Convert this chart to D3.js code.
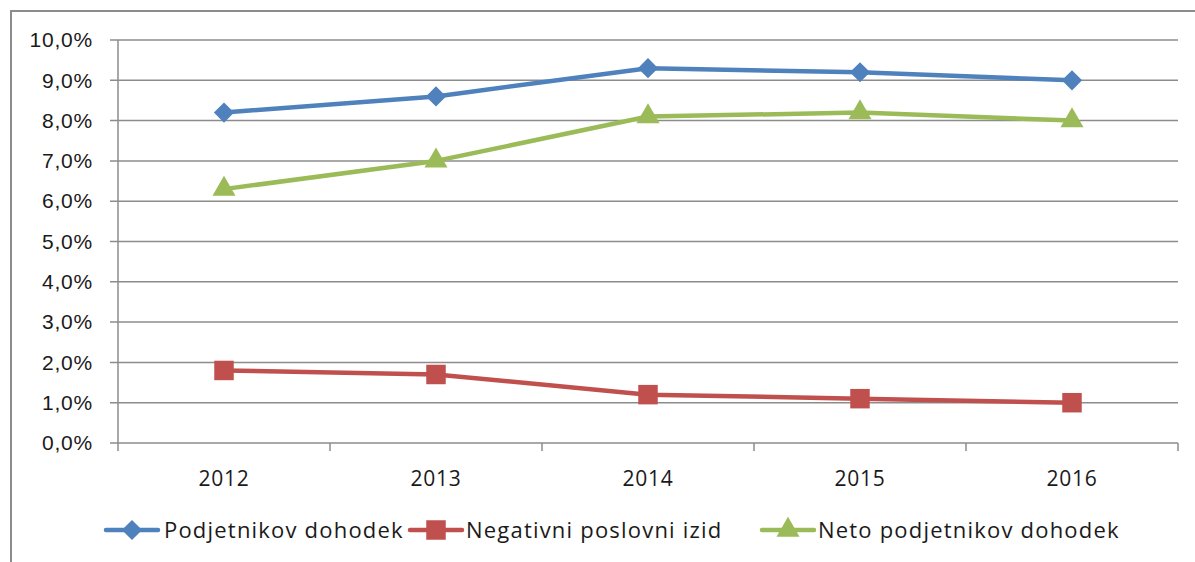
<!DOCTYPE html>
<html>
<head>
<meta charset="utf-8">
<script src="https://cdn.jsdelivr.net/npm/d3@7"></script>
<style>
  body { margin: 0; background: #fff; }
  svg { display: block; font-family: "Open Sans", sans-serif; }
</style>
</head>
<body>
<svg id="drawing_region"></svg>
<script>
const years = ["2012", "2013", "2014", "2015", "2016"];
const podjetnikov = [8.2, 8.6, 9.3, 9.2, 9.0];
const negativni = [1.8, 1.7, 1.2, 1.1, 1.0];
const neto = [6.3, 7.0, 8.1, 8.2, 8.0];
const yTicks = [0, 1, 2, 3, 4, 5, 6, 7, 8, 9, 10];
const seriesNames = ["Podjetnikov dohodek", "Negativni poslovni izid", "Neto podjetnikov dohodek"];

const series = [
    { name: seriesNames[0], values: podjetnikov, color: "#4F81BD", marker: d3.symbolDiamond2, size: 260 },
    { name: seriesNames[1], values: negativni, color: "#C0504D", marker: d3.symbolSquare, size: 380 },
    { name: seriesNames[2], values: neto, color: "#9BBB59", marker: d3.symbolTriangle, size: 230 }
];

const width = 1195, height = 562;
const margin = { top: 40, left: 118, right: 17, bottom: 119 };

const svg = d3.select("#drawing_region")
    .attr("width", width)
    .attr("height", height);

// chart frame (only left and top edges visible)
svg.append("path")
    .attr("d", "M11,562 V11 H1195")
    .attr("fill", "none")
    .attr("stroke", "#8c8c8c")
    .attr("stroke-width", 2);

const xscale = d3.scaleBand()
    .domain(years)
    .range([margin.left, width - margin.right]);

const yscale = d3.scaleLinear()
    .domain([0, 10])
    .range([height - margin.bottom, margin.top]);

const fmt = d => d.toFixed(1).replace(".", ",") + "%";

// gridlines
svg.append("g")
    .selectAll("line")
    .data(yTicks)
    .join("line")
    .attr("x1", margin.left - 8)
    .attr("x2", width - margin.right)
    .attr("y1", d => yscale(d))
    .attr("y2", d => yscale(d))
    .attr("stroke", "#8c8c8c")
    .attr("stroke-width", 1.5);

// y axis
const yaxis_group = svg.append("g")
    .attr("transform", `translate(${margin.left}, 0)`)
    .call(d3.axisLeft(yscale).tickValues(yTicks).tickFormat(fmt).tickSize(8).tickPadding(17));
yaxis_group.selectAll("line").remove();
yaxis_group.select(".domain").attr("d", `M0,${yscale(10)}V${yscale(0)}`)
    .attr("stroke", "#8c8c8c").attr("stroke-width", 1.5);
yaxis_group.selectAll("text")
    .style("font-size", "21px")
    .style("letter-spacing", "0.8px")
    .attr("fill", "#1a1a1a");

// x axis
const bounds = years.map(y => xscale(y)).concat([xscale.range()[1]]);
svg.append("g")
    .selectAll("line")
    .data(bounds)
    .join("line")
    .attr("x1", d => d).attr("x2", d => d)
    .attr("y1", yscale(0)).attr("y2", yscale(0) + 8)
    .attr("stroke", "#8c8c8c")
    .attr("stroke-width", 1.5);

svg.append("g")
    .selectAll("text")
    .data(years)
    .join("text")
    .attr("x", d => xscale(d) + xscale.bandwidth() / 2)
    .attr("y", yscale(0) + 43)
    .attr("text-anchor", "middle")
    .style("font-size", "21px")
    .style("letter-spacing", "0.8px")
    .attr("fill", "#1a1a1a")
    .text(d => d);

// lines and markers
const line = d3.line()
    .x((d, i) => xscale(years[i]) + xscale.bandwidth() / 2)
    .y(d => yscale(d));

series.forEach(s => {
    svg.append("path")
        .datum(s.values)
        .attr("d", line)
        .attr("fill", "none")
        .attr("stroke", s.color)
        .attr("stroke-width", 4.5)
        .attr("stroke-linejoin", "round");

    svg.append("g")
        .selectAll("path")
        .data(s.values)
        .join("path")
        .attr("transform", (d, i) => `translate(${xscale(years[i]) + xscale.bandwidth() / 2}, ${yscale(d)})`)
        .attr("d", d3.symbol().type(s.marker).size(s.size))
        .attr("fill", s.color);
});

// legend
const legendX = [106, 410, 762];
const legendY = 530;
series.forEach((s, i) => {
    const g = svg.append("g").attr("transform", `translate(${legendX[i]}, ${legendY})`);
    g.append("line")
        .attr("x1", 0).attr("x2", 52)
        .attr("y1", 0).attr("y2", 0)
        .attr("stroke", s.color)
        .attr("stroke-width", 4.5)
        .attr("stroke-linecap", "round");
    g.append("path")
        .attr("transform", "translate(26, 0)")
        .attr("d", d3.symbol().type(s.marker).size(s.size))
        .attr("fill", s.color);
    g.append("text")
        .attr("x", i === 0 ? 58 : 56)
        .attr("y", 8)
        .style("font-size", "22px")
        .style("letter-spacing", "1.2px")
        .attr("fill", "#1a1a1a")
        .text(s.name);
});
</script>
</body>
</html>
